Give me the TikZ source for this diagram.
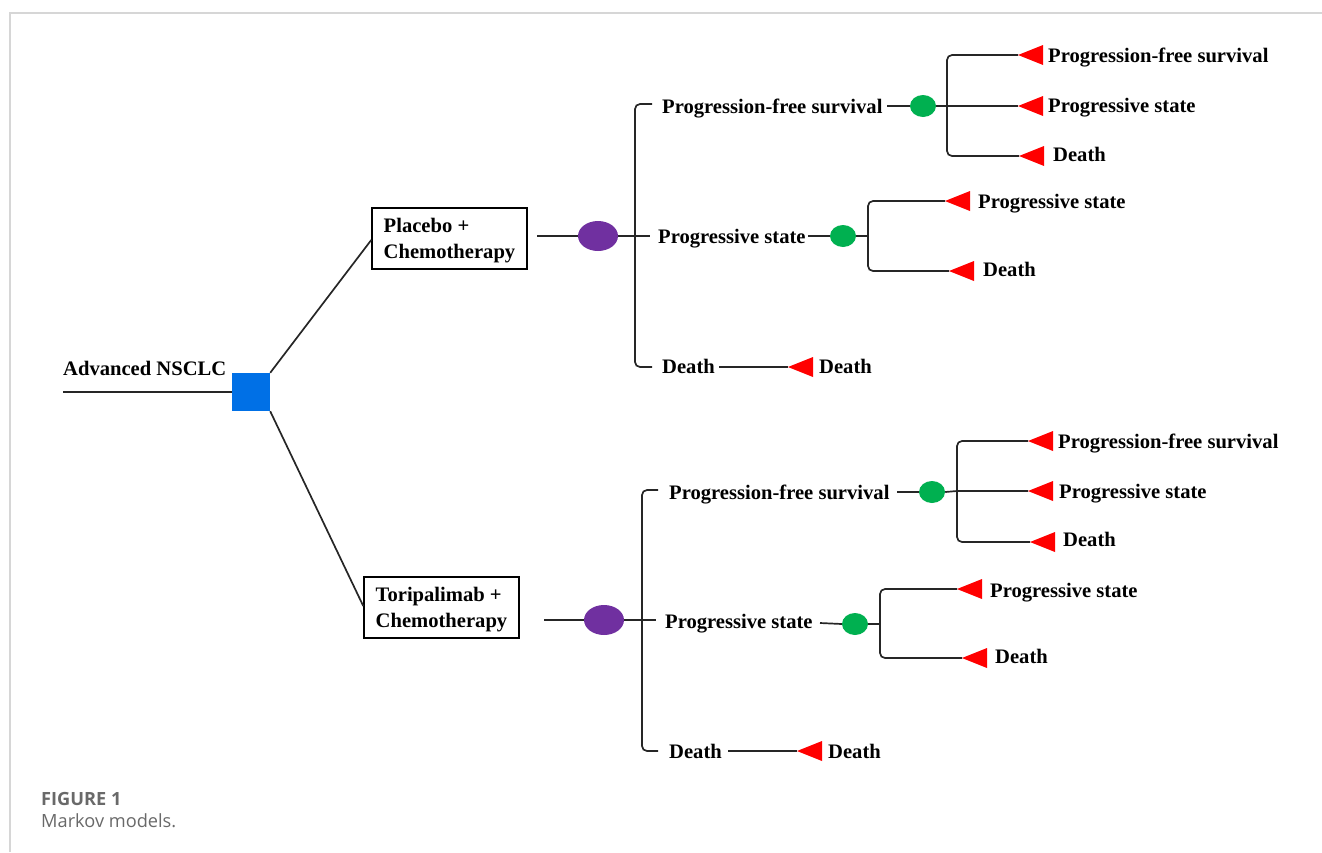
\documentclass[tikz,border=0pt]{standalone}
\usepackage{fontspec}
\setmainfont{Liberation Serif}
\newfontfamily\capfont{Open Sans}
\usetikzlibrary{shapes.geometric,calc}
\definecolor{sqblue}{RGB}{0,112,230}
\definecolor{chpurple}{RGB}{112,48,160}
\definecolor{chgreen}{RGB}{0,176,80}
\definecolor{framegray}{RGB}{214,214,214}
\definecolor{capgray}{RGB}{105,105,105}
\newcommand\redtri[3]{\coordinate (#1) at (#2,#3); \fill[red] (#1) -- ++(25,-10) -- ++(0,20) -- cycle;}
\begin{document}
\begin{tikzpicture}[x=1pt,y=-1pt,
  ln/.style={line width=1.7pt, black!85},
  lbl/.style={anchor=base west, inner sep=0pt, font=\fontsize{20.6}{26}\selectfont\bfseries},
  boxnode/.style={draw, line width=1.5pt, minimum width=155pt, minimum height=61pt, align=left, inner sep=0pt, font=\fontsize{20.6}{26}\selectfont\bfseries},
  chanceA/.style={ellipse, fill=chpurple, minimum width=40pt, minimum height=30pt, inner sep=0pt},
  chanceB/.style={ellipse, fill=chgreen, minimum width=26pt, minimum height=22pt, inner sep=0pt},
  decision/.style={rectangle, fill=sqblue, minimum width=38pt, minimum height=38pt, inner sep=0pt},
  captxt/.style={anchor=base west, inner sep=0pt, text=capgray}]
\useasboundingbox (0,0) rectangle (1322,852);
% frame
\draw[framegray, line width=2pt] (9.5,852) -- (9.5,12.5) -- (1322,12.5);

% root
\node[lbl] (root) at (63,375) {Advanced NSCLC};
\coordinate (start) at (63,392);
\node[decision] (sq) at (251,392) {};
\draw[ln] (start) -- (sq.west);

% strategy boxes
\node[boxnode] (b1) at (449.5,238.5) {\rule{0pt}{19pt}Placebo +\\Chemotherapy};
\node[boxnode] (b2) at (441.5,607.5) {\rule{0pt}{19pt}Toripalimab +\\Chemotherapy};
\draw[ln] (sq.north east) -- (b1.west |- 0,240);
\draw[ln] (sq.south east) -- (b2.west |- 0,606);

% ================= top tree =================
\node[chanceA] (e1) at (598,236) {};
\coordinate (b1o) at (537,236);
\draw[ln] (b1o) -- (e1.west);
\coordinate (j1) at (635,236);
\coordinate (s1t) at (652,104);
\coordinate (s1m) at (650,236);
\coordinate (s1b) at (652,367);
\draw[ln] (e1.east) -- (j1) -- (s1m);
\draw[ln, rounded corners=5pt] (s1t) -- (s1t -| j1) -- (s1b -| j1) -- (s1b);
\node[lbl] (p1) at (662,113) {Progression-free survival};
\node[lbl] (q1) at (658,243) {Progressive state};
\node[lbl] (d1) at (662,373) {Death};

% PFS branch
\node[chanceB] (g1) at (923,106) {};
\coordinate (p1o) at (887,106);
\draw[ln] (p1o) -- (g1.west);
\redtri{t1a}{1018}{55}
\redtri{t1b}{1018}{106}
\redtri{t1c}{1019}{156}
\coordinate (k1) at (947,106);
\draw[ln] (g1.east) -- (k1) -- (t1b);
\draw[ln, rounded corners=5pt] (t1a) -- (t1a -| k1) -- (t1c -| k1) -- (t1c);
\node[lbl] (x1a) at (1048,62) {Progression-free survival};
\node[lbl] (x1b) at (1048,112) {Progressive state};
\node[lbl] (x1c) at (1053,161) {Death};

% progressive branch
\node[chanceB] (g2) at (843,236) {};
\coordinate (q1o) at (808,236);
\draw[ln] (q1o) -- (g2.west);
\redtri{t2a}{945}{201}
\redtri{t2b}{949}{271}
\coordinate (k2) at (868,236);
\draw[ln] (g2.east) -- (k2);
\draw[ln, rounded corners=5pt] (t2a) -- (t2a -| k2) -- (t2b -| k2) -- (t2b);
\node[lbl] (x2a) at (978,208) {Progressive state};
\node[lbl] (x2b) at (983,276) {Death};

% death branch
\redtri{t3}{788}{367}
\coordinate (d1o) at (719,367);
\draw[ln] (d1o) -- (t3);
\node[lbl] (x3) at (819,373) {Death};

% ================= bottom tree =================
\node[chanceA] (e2) at (604,620) {};
\coordinate (b2o) at (544,620);
\draw[ln] (b2o) -- (e2.west);
\coordinate (j2) at (642,620);
\coordinate (s2t) at (658,490);
\coordinate (s2m) at (656,620);
\coordinate (s2b) at (658,751);
\draw[ln] (e2.east) -- (j2) -- (s2m);
\draw[ln, rounded corners=5pt] (s2t) -- (s2t -| j2) -- (s2b -| j2) -- (s2b);
\node[lbl] (p2) at (669,499) {Progression-free survival};
\node[lbl] (q2) at (665,628) {Progressive state};
\node[lbl] (d2) at (669,758) {Death};

% PFS branch
\node[chanceB] (g3) at (932,492) {};
\coordinate (p2o) at (897,492);
\draw[ln] (p2o) -- (g3.west);
\redtri{t4a}{1028}{441}
\redtri{t4b}{1028}{491}
\redtri{t4c}{1030}{542}
\coordinate (k3) at (957,491);
\draw[ln] (g3.east) -- (k3) -- (t4b);
\draw[ln, rounded corners=5pt] (t4a) -- (t4a -| k3) -- (t4c -| k3) -- (t4c);
\node[lbl] (x4a) at (1058,448) {Progression-free survival};
\node[lbl] (x4b) at (1059,498) {Progressive state};
\node[lbl] (x4c) at (1063,546) {Death};

% progressive branch
\node[chanceB] (g4) at (855,624) {};
\coordinate (q2o) at (820,623);
\draw[ln] (q2o) -- (g4.west);
\redtri{t5a}{957}{589}
\redtri{t5b}{962}{658}
\coordinate (k4) at (880,624);
\draw[ln] (g4.east) -- (k4);
\draw[ln, rounded corners=5pt] (t5a) -- (t5a -| k4) -- (t5b -| k4) -- (t5b);
\node[lbl] (x5a) at (990,597) {Progressive state};
\node[lbl] (x5b) at (995,663) {Death};

% death branch
\redtri{t6}{797}{751}
\coordinate (d2o) at (728,751);
\draw[ln] (d2o) -- (t6);
\node[lbl] (x6) at (828,758) {Death};

% caption
\node[captxt, font=\capfont\bfseries\fontsize{18.2}{21}\selectfont] (cap1) at (41,805) {FIGURE 1};
\node[captxt, font=\capfont\fontsize{18.2}{21}\selectfont] (cap2) at (41,827) {Markov models.};
\end{tikzpicture}
\end{document}
